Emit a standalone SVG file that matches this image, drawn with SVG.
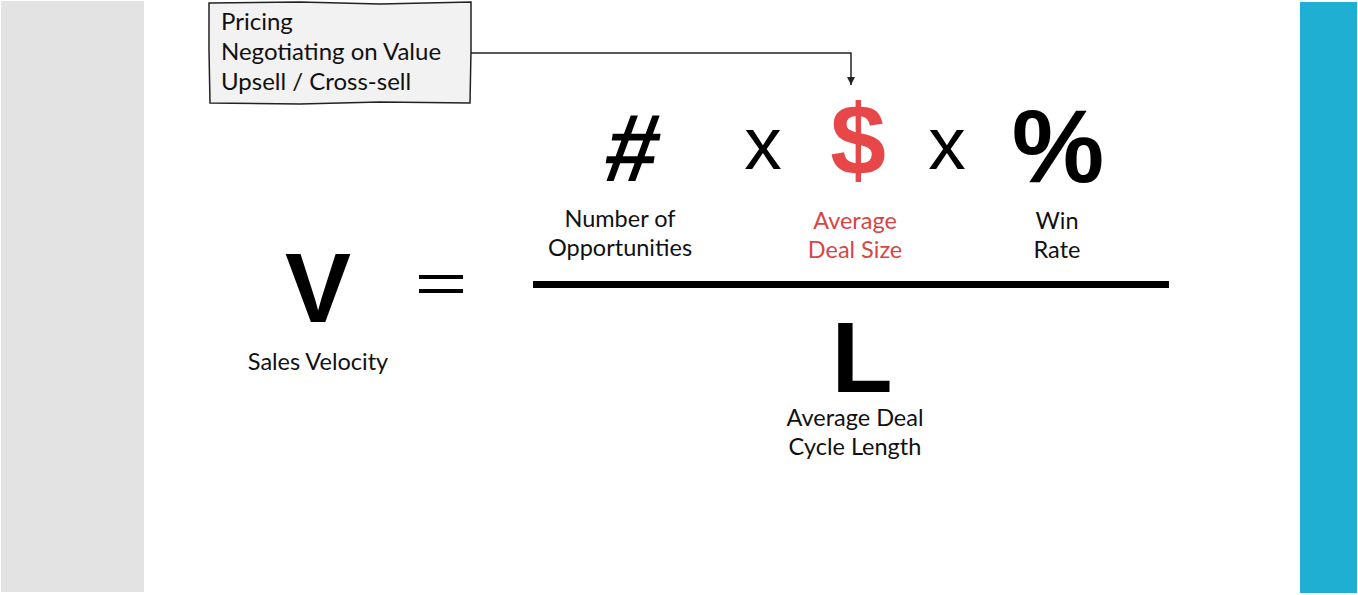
<svg xmlns="http://www.w3.org/2000/svg" width="1358" height="595" viewBox="0 0 1358 595">
<defs>
<marker id="arr" markerWidth="10" markerHeight="10" refX="8" refY="5" orient="auto" markerUnits="userSpaceOnUse">
<path d="M0,1 L8,5 L0,9 Z" fill="#222"/>
</marker>
<style>
.lbl{font-family:Lato,"Open Sans",sans-serif;font-size:23.5px;fill:#111;text-anchor:middle}
.red{fill:#d94545}
.big{font-family:"Liberation Sans",Arial,sans-serif;font-weight:bold;fill:#000;text-anchor:middle}
.op{font-family:"Liberation Sans",Arial,sans-serif;fill:#000;text-anchor:middle;font-size:75px}
.box{font-family:Lato,"Open Sans",sans-serif;font-size:24px;fill:#111}
</style>
</defs>
<rect width="1358" height="595" fill="#fff"/>
<rect x="1" y="1" width="143" height="591" fill="#e3e3e3"/>
<rect x="1300" y="2" width="57" height="591" fill="#1fafd2"/>

<g id="levers">
<path d="M209,3 L300,2 L380,4 L471,2 L471,50 L470,103 L380,102 L300,104 L210,103 L209,50 Z" fill="#f2f2f2" stroke="#222" stroke-width="1.5"/>
<text class="box" x="221" y="30">Pricing</text>
<text class="box" x="221" y="60">Negotiating on Value</text>
<text class="box" x="221" y="90">Upsell / Cross-sell</text>
</g>

<g id="connectors">
<path d="M471,53 L851,53 L851,85" fill="none" stroke="#222" stroke-width="1.5" marker-end="url(#arr)"/>
</g>

<g id="velocity">
<text class="big" x="318" y="322" font-size="99">V</text>
<text class="lbl" x="318" y="370">Sales Velocity</text>
</g>

<g id="equals">
<rect x="419" y="275" width="44" height="4" fill="#000"/>
<rect x="419" y="289" width="44" height="4" fill="#000"/>
</g>

<g id="opportunities">
<text class="big" x="0" y="0" font-size="96" transform="translate(628,181) skewX(-9)">#</text>
<text class="lbl" x="620" y="227">Number of</text>
<text class="lbl" x="620" y="256">Opportunities</text>
</g>

<g id="times1"><text class="op" x="763" y="169">x</text></g>

<g id="dealsize">
<text class="big" x="858" y="175" font-size="100" style="fill:#e8474a">$</text>
<text class="lbl red" x="855" y="229">Average</text>
<text class="lbl red" x="855" y="258">Deal Size</text>
</g>

<g id="times2"><text class="op" x="947" y="169">x</text></g>

<g id="winrate">
<text class="big" x="1058" y="182" font-size="104">%</text>
<text class="lbl" x="1057" y="229">Win</text>
<text class="lbl" x="1057" y="258">Rate</text>
</g>

<g id="fractionbar"><rect x="533" y="281" width="636" height="7" fill="#000"/></g>

<g id="cyclelength">
<text class="big" x="862" y="392" font-size="100">L</text>
<text class="lbl" x="855" y="426">Average Deal</text>
<text class="lbl" x="855" y="455">Cycle Length</text>
</g>
</svg>
